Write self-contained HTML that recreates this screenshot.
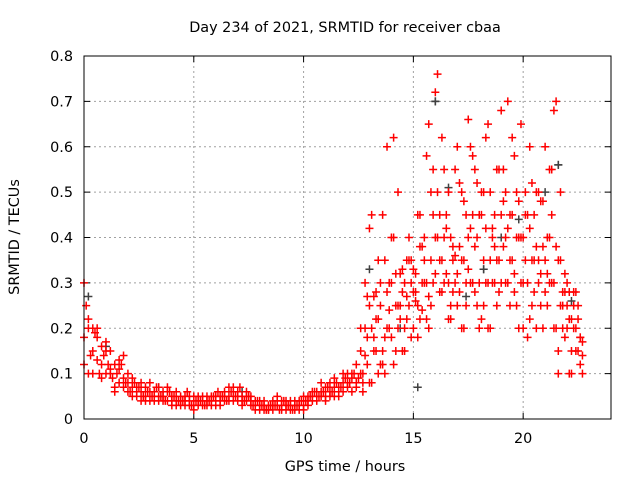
<!DOCTYPE html>
<html><head><meta charset="utf-8"><style>
html,body{margin:0;padding:0;background:#fff;}
svg text{font-family:"DejaVu Sans","Liberation Sans",sans-serif;font-size:14.4px;fill:#000;}
</style></head><body>
<svg id="chart" width="640" height="480" xmlns="http://www.w3.org/2000/svg">
<rect width="640" height="480" fill="#fff"/>
<text x="345" y="32" text-anchor="middle">Day 234 of 2021, SRMTID for receiver cbaa</text>
<text x="345" y="471" text-anchor="middle">GPS time / hours</text>
<text transform="translate(19,237) rotate(-90)" text-anchor="middle">SRMTID / TECUs</text>
<g id="grid"></g>
<g id="ticks"></g>
<g id="marks"></g>
<rect x="84" y="56" width="527" height="363" fill="none" stroke="#000" stroke-width="1"/>
</svg>
<script>
const xTicks=[0,5,10,15,20];
const yTicks=[0,0.1,0.2,0.3,0.4,0.5,0.6,0.7,0.8];
const yTickLabels=["0","0.1","0.2","0.3","0.4","0.5","0.6","0.7","0.8"];
const hours=[0.0,0.2,0.4,0.6,0.8,1.0,1.2,1.4,1.6,1.8,2.0,2.2,2.4,2.6,2.8,3.0,3.2,3.4,3.6,3.8,4.0,4.2,4.4,4.6,4.8,5.0,5.2,5.4,5.6,5.8,6.0,6.2,6.4,6.6,6.8,7.0,7.2,7.4,7.6,7.8,8.0,8.2,8.4,8.6,8.8,9.0,9.2,9.4,9.6,9.8,10.0,10.2,10.4,10.6,10.8,11.0,11.2,11.4,11.6,11.8,12.0,12.2,12.4,12.6,12.8,13.0,13.2,13.4,13.6,13.8,14.0,14.2,14.4,14.6,14.8,15.0,15.2,15.4,15.6,15.8,16.0,16.2,16.4,16.6,16.8,17.0,17.2,17.4,17.6,17.8,18.0,18.2,18.4,18.6,18.8,19.0,19.2,19.4,19.6,19.8,20.0,20.2,20.4,20.6,20.8,21.0,21.2,21.4,21.6,21.8,22.0,22.2,22.4,22.6];
const seriesA=[0.3,0.2,0.15,0.18,0.12,0.15,0.1,0.12,0.08,0.14,0.1,0.07,0.06,0.08,0.05,0.06,0.05,0.07,0.05,0.06,0.05,0.04,0.05,0.03,0.04,0.05,0.04,0.03,0.04,0.05,0.04,0.05,0.06,0.05,0.04,0.06,0.05,0.04,0.05,0.03,0.03,0.02,0.03,0.04,0.03,0.02,0.03,0.04,0.02,0.03,0.03,0.05,0.04,0.06,0.05,0.07,0.06,0.05,0.07,0.08,0.07,0.09,0.12,0.15,0.2,0.25,0.15,0.22,0.12,0.28,0.3,0.25,0.32,0.2,0.35,0.28,0.25,0.3,0.22,0.35,0.32,0.28,0.4,0.3,0.38,0.25,0.35,0.3,0.42,0.28,0.2,0.35,0.3,0.4,0.25,0.45,0.3,0.35,0.28,0.4,0.2,0.3,0.25,0.38,0.32,0.28,0.4,0.3,0.15,0.2,0.25,0.15,0.2,0.12];
const seriesB=[0.18,0.22,0.1,0.2,0.16,0.1,0.15,0.07,0.13,0.09,0.06,0.09,0.05,0.04,0.07,0.04,0.06,0.04,0.06,0.04,0.03,0.06,0.03,0.05,0.03,0.03,0.05,0.04,0.03,0.03,0.05,0.03,0.04,0.07,0.06,0.04,0.03,0.06,0.03,0.04,0.02,0.04,0.02,0.03,0.05,0.04,0.02,0.03,0.04,0.02,0.05,0.03,0.06,0.04,0.08,0.05,0.08,0.07,0.05,0.1,0.1,0.06,0.08,0.2,0.3,0.42,0.27,0.35,0.45,0.6,0.4,0.32,0.25,0.3,0.4,0.33,0.45,0.38,0.58,0.5,0.72,0.45,0.55,0.5,0.35,0.6,0.5,0.45,0.6,0.55,0.45,0.5,0.65,0.42,0.55,0.68,0.5,0.45,0.58,0.48,0.4,0.45,0.52,0.5,0.48,0.6,0.55,0.68,0.35,0.28,0.3,0.22,0.28,0.18];
const seriesC=[0.12,0.1,0.2,0.13,0.09,0.17,0.11,0.06,0.11,0.07,0.08,0.05,0.07,0.06,0.04,0.08,0.04,0.05,0.04,0.07,0.04,0.03,0.04,0.04,0.05,0.02,0.03,0.05,0.05,0.04,0.03,0.04,0.05,0.04,0.07,0.05,0.04,0.05,0.04,0.02,0.04,0.03,0.02,0.02,0.04,0.03,0.04,0.02,0.03,0.04,0.02,0.04,0.05,0.05,0.06,0.04,0.05,0.09,0.06,0.06,0.08,0.1,0.07,0.1,0.14,0.08,0.18,0.1,0.15,0.2,0.18,0.15,0.22,0.15,0.25,0.2,0.18,0.24,0.3,0.25,0.4,0.35,0.3,0.22,0.28,0.32,0.2,0.25,0.3,0.38,0.3,0.25,0.2,0.3,0.35,0.3,0.4,0.25,0.32,0.2,0.3,0.18,0.35,0.2,0.25,0.35,0.3,0.2,0.1,0.25,0.2,0.1,0.15,0.18];
const quietHours=[0.1,0.3,0.5,0.7,0.9,1.1,1.3,1.5,1.7,1.9,2.1,2.3,2.5,2.7,2.9,3.1,3.3,3.5,3.7,3.9,4.1,4.3,4.5,4.7,4.9,5.1,5.3,5.5,5.7,5.9,6.1,6.3,6.5,6.7,6.9,7.1,7.3,7.5,7.7,7.9,8.1,8.3,8.5,8.7,8.9,9.1,9.3,9.5,9.7,9.9,10.1,10.3,10.5,10.7,10.9,11.1,11.3,11.5,11.7,11.9,12.1,12.3,12.5];
const seriesG=[0.25,0.14,0.19,0.1,0.14,0.12,0.09,0.1,0.12,0.08,0.06,0.08,0.07,0.05,0.06,0.05,0.07,0.05,0.04,0.06,0.05,0.04,0.04,0.06,0.03,0.04,0.04,0.03,0.04,0.05,0.06,0.05,0.04,0.06,0.05,0.07,0.04,0.05,0.03,0.04,0.03,0.02,0.03,0.03,0.02,0.04,0.03,0.02,0.03,0.04,0.04,0.05,0.06,0.05,0.06,0.07,0.06,0.08,0.07,0.09,0.08,0.1,0.09];
const activeHours=[12.7,12.9,13.1,13.3,13.5,13.7,13.9,14.1,14.3,14.5,14.7,14.9,15.1,15.3,15.5,15.7,15.9,16.1,16.3,16.5,16.7,16.9,17.1,17.3,17.5,17.7,17.9,18.1,18.3,18.5,18.7,18.9,19.1,19.3,19.5,19.7,19.9,20.1,20.3,20.5,20.7,20.9,21.1,21.3,21.5,21.7,21.9,22.1,22.3,22.5,22.7];
const seriesD=[0.1,0.27,0.45,0.22,0.3,0.1,0.24,0.62,0.5,0.33,0.27,0.35,0.28,0.22,0.4,0.65,0.55,0.76,0.62,0.45,0.4,0.36,0.52,0.48,0.66,0.58,0.52,0.45,0.62,0.5,0.38,0.35,0.55,0.7,0.62,0.5,0.65,0.5,0.42,0.28,0.35,0.48,0.4,0.45,0.7,0.5,0.32,0.28,0.2,0.25,0.14];
const seriesE=[0.06,0.18,0.08,0.28,0.12,0.18,0.3,0.12,0.2,0.28,0.22,0.18,0.32,0.38,0.3,0.27,0.45,0.5,0.35,0.42,0.25,0.3,0.38,0.2,0.33,0.45,0.4,0.22,0.3,0.35,0.45,0.28,0.48,0.42,0.35,0.25,0.4,0.35,0.22,0.45,0.3,0.38,0.25,0.3,0.2,0.35,0.18,0.22,0.28,0.15,0.17];
const seriesF=[0.08,0.12,0.2,0.15,0.25,0.35,0.2,0.4,0.25,0.15,0.35,0.3,0.26,0.45,0.35,0.2,0.3,0.4,0.28,0.32,0.22,0.55,0.28,0.35,0.4,0.3,0.25,0.5,0.42,0.2,0.3,0.55,0.38,0.3,0.45,0.4,0.3,0.45,0.6,0.35,0.5,0.2,0.32,0.55,0.38,0.25,0.28,0.1,0.25,0.22,0.1];
const grayHours=[0.2,1.0,3.4,7.2,9.6,13.0,14.4,15.2,16.0,16.6,17.4,18.2,19.0,19.8,21.0,21.6,22.2];
const grayValues=[0.27,0.16,0.07,0.06,0.03,0.33,0.2,0.07,0.7,0.51,0.27,0.33,0.4,0.44,0.5,0.56,0.26];

const X0=84,X1=611,Y0=419,Y1=56;
function xs(v){return X0+(v/24)*(X1-X0);}
function ys(v){return Y0-(v/0.8)*(Y0-Y1);}
const NS="http://www.w3.org/2000/svg";
const grid=document.getElementById('grid'),ticks=document.getElementById('ticks'),marks=document.getElementById('marks');
function mk(tag,attrs,parent){const e=document.createElementNS(NS,tag);for(const k in attrs)e.setAttribute(k,attrs[k]);parent.appendChild(e);return e;}
xTicks.forEach(t=>{
  const x=xs(t);
  if(t>0){const g=mk('line',{x1:x,x2:x,y1:Y1,y2:Y0,stroke:'#a0a0a0','stroke-dasharray':'2,3'},grid);
  
  }
  mk('line',{x1:x,x2:x,y1:Y0,y2:Y0-6,stroke:'#000'},ticks);
  mk('line',{x1:x,x2:x,y1:Y1,y2:Y1+6,stroke:'#000'},ticks);
  const l=mk('text',{x:x,y:443,'text-anchor':'middle'},ticks);l.textContent=String(t);
  
  
});
yTicks.forEach((t,i)=>{
  const y=ys(t);
  if(i>0&&i<yTicks.length-1){const g=mk('line',{x1:X0,x2:X1,y1:y,y2:y,stroke:'#a0a0a0','stroke-dasharray':'2,3'},grid);
  
  }
  mk('line',{x1:X0,x2:X0+6,y1:y,y2:y,stroke:'#000'},ticks);
  mk('line',{x1:X1,x2:X1-6,y1:y,y2:y,stroke:'#000'},ticks);
  const l=mk('text',{x:73,y:y+5,'text-anchor':'end'},ticks);l.textContent=yTickLabels[i];
  
  
});
function plus(h,v,color,name){
  const x=xs(h),y=ys(v);
  const p=mk('path',{d:`M${x-4},${y}H${x+4}M${x},${y-4}V${y+4}`,stroke:color,'stroke-width':1.5,fill:'none'},marks);
  
  
}
grayHours.forEach((h,i)=>plus(h,grayValues[i],'#404040','gray-data-point'));
[seriesA,seriesB,seriesC].forEach(s=>{hours.forEach((h,i)=>plus(h,s[i],'#ff0000','data-point'));});
quietHours.forEach((h,i)=>plus(h,seriesG[i],'#ff0000','data-point'));
[seriesD,seriesE,seriesF].forEach(s=>{activeHours.forEach((h,i)=>plus(h,s[i],'#ff0000','data-point'));});
[16.0,18.2,21.6].forEach(h=>{const i=grayHours.indexOf(h);plus(h,grayValues[i],'#404040','gray-data-point');});
</script>
</body></html>
